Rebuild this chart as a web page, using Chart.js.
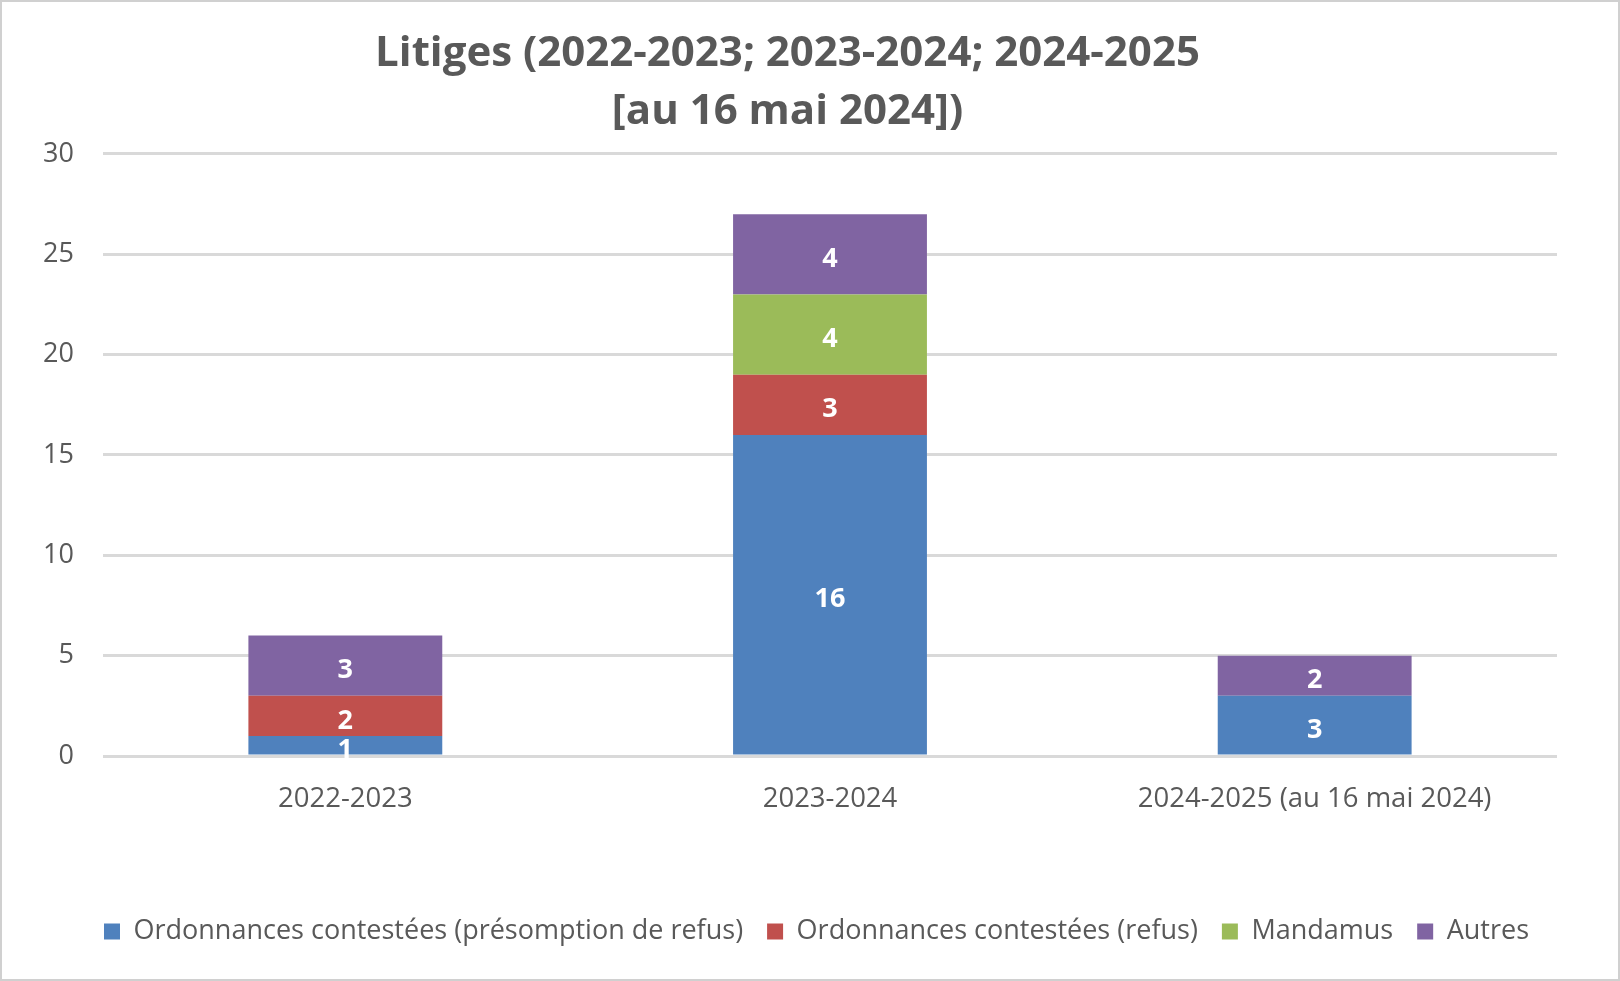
<!DOCTYPE html>
<html>
<head>
<meta charset="utf-8">
<script src="https://cdn.jsdelivr.net/npm/chart.js@4.4.1/dist/chart.umd.min.js"></script>
<style>
  html, body { margin: 0; padding: 0; background: #fff; }
  #wrap { width: 1620px; height: 981px; box-sizing: border-box; border: 2px solid #d0d0d0; }
  canvas { display: block; }
</style>
</head>
<body>
<div id="wrap"><canvas id="litiges" width="1616" height="977"></canvas></div>
<script>
const categories = ['2022-2023', '2023-2024', '2024-2025 (au 16 mai 2024)'];
const presomption = [1, 16, 3];
const refus = [2, 3, 0];
const mandamus = [0, 4, 0];
const autres = [3, 4, 2];
const yTicks = [0, 5, 10, 15, 20, 25, 30];

const textGray = '#595959';
const fontFamily = "'Open Sans', 'DejaVu Sans', sans-serif";

// white value labels in the middle of each segment
const segmentLabels = {
    id: 'segmentLabels',
    afterDatasetsDraw(chart) {
        const ctx = chart.ctx;
        ctx.save();
        ctx.fillStyle = '#ffffff';
        ctx.font = 'bold 27px ' + fontFamily;
        ctx.textAlign = 'center';
        ctx.textBaseline = 'middle';
        chart.data.datasets.forEach((ds, i) => {
            const meta = chart.getDatasetMeta(i);
            meta.data.forEach((bar, j) => {
                const v = ds.data[j];
                if (!v) return;
                ctx.fillText(String(v), bar.x, (bar.y + bar.base) / 2 + 5);
            });
        });
        ctx.restore();
    }
};

// title and legend are not centred on the same axis in the original
const nudgeBoxes = {
    id: 'nudgeBoxes',
    afterLayout(chart) {
        if (chart.legend) { chart.legend.left += 37; chart.legend.right += 37; }
        if (chart.titleBlock) { chart.titleBlock.left += 8; chart.titleBlock.right += 8; }
    }
};

new Chart(document.getElementById('litiges'), {
    type: 'bar',
    data: {
        labels: categories,
        datasets: [
            { label: 'Ordonnances contestées (présomption de refus)', data: presomption, backgroundColor: '#4F81BD' },
            { label: 'Ordonnances contestées (refus)', data: refus, backgroundColor: '#C0504D' },
            { label: 'Mandamus', data: mandamus, backgroundColor: '#9BBB59' },
            { label: 'Autres', data: autres, backgroundColor: '#8064A2' }
        ]
    },
    options: {
        responsive: false,
        animation: false,
        layout: { padding: { left: 0, right: 61, top: 0, bottom: 24 } },
        datasets: { bar: { categoryPercentage: 0.8, barPercentage: 0.5, borderWidth: 0 } },
        scales: {
            x: {
                stacked: true,
                grid: { display: false, drawTicks: false },
                border: { display: false },
                ticks: { color: textGray, padding: 27, font: { family: fontFamily, size: 27.5 } },
                afterFit: (scale) => { scale.height = 138; }
            },
            y: {
                stacked: true,
                min: 0,
                max: 30,
                afterBuildTicks: (scale) => { scale.ticks = yTicks.map(v => ({ value: v })); },
                grid: { color: '#d9d9d9', lineWidth: 3, drawTicks: false },
                border: { display: false },
                ticks: { color: textGray, padding: 29, font: { family: fontFamily, size: 27 } },
                afterFit: (scale) => { scale.width = 101; }
            }
        },
        plugins: {
            title: {
                display: true,
                text: ['Litiges (2022-2023; 2023-2024; 2024-2025', '[au 16 mai 2024])'],
                color: textGray,
                font: { family: fontFamily, size: 42, weight: 'bold', lineHeight: 1.38 },
                padding: { top: 23, bottom: 13 }
            },
            legend: {
                position: 'bottom',
                labels: {
                    color: textGray,
                    boxWidth: 16,
                    boxHeight: 16,
                    padding: 24,
                    font: { family: fontFamily, size: 27 }
                }
            },
            tooltip: { enabled: false }
        }
    },
    plugins: [segmentLabels, nudgeBoxes]
});
</script>
</body>
</html>
